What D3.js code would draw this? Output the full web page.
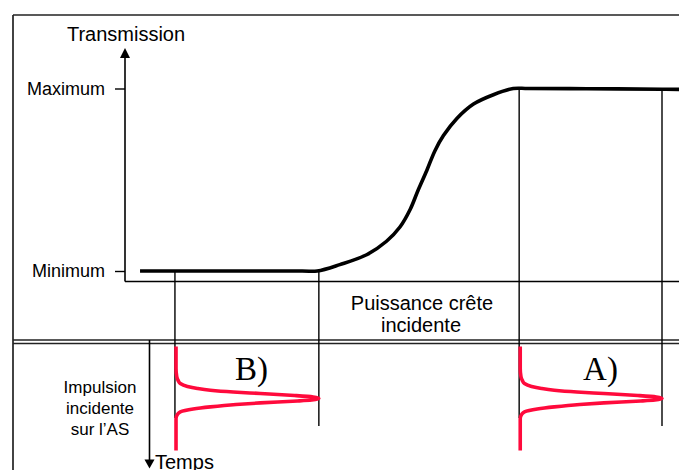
<!DOCTYPE html>
<html>
<head>
<meta charset="utf-8">
<script src="https://cdn.jsdelivr.net/npm/d3@7"></script>
<style>
  html, body { margin: 0; padding: 0; background: #fff; }
  svg { display: block; }
  text { font-family: "Liberation Sans", Arial, Helvetica, sans-serif; fill: #000; }
  .serif { font-family: "Liberation Serif", "Times New Roman", serif; }
</style>
</head>
<body>
<svg id="chart" width="679" height="470"></svg>
<script>
// Saturable-absorber transmission versus incident peak power (arbitrary units)
const powerValues = [2.8, 33.0, 35.8, 40.0, 45.0, 48.7, 51.2, 53.1, 54.6, 56.2, 57.7, 59.3, 61.8, 64.9, 68.6, 72.3, 75.0, 86.0, 100.0, 103.2];
const transmissionValues = [0, 0, 0, 0.035, 0.089, 0.163, 0.241, 0.337, 0.444, 0.551, 0.658, 0.742, 0.836, 0.915, 0.966, 1.0, 1.0, 0.999, 0.996, 0.995];

// Transmission axis ticks
const levelTicks = [0, 1];
const levelLabels = ["Minimum", "Maximum"];

// Incident pulses: baseline power, peak power, label
const pulseNames = ["B)", "A)"];
const pulseBase = [9.5, 73.6];
const pulsePeak = [36.1, 100.0];
const pulseLabelPower = [20.5, 85.3];

// Reference lines dropped from the curve into the pulse panel
const guidePower = [9.3, 36.1, 73.4, 100.0];
const guideLevel = [0, 0, 1, 1];
const guideEndTime = [3.9, 5.5, 3.9, 5.5];

// Normalised pulse profile versus time (time runs downwards)
const pulseTime = [-10.4, -6.0, -4.4, -3.6, -3.0, -2.4, -2.0, -1.66, -1.3, -1.0, -0.6, -0.3, 0, 0.3, 0.5, 0.88, 1.2, 1.68, 2.1, 2.68, 3.2, 4.0, 10.4];
const pulseShape = [0, 0, 0.005, 0.015, 0.03, 0.08, 0.15, 0.24, 0.40, 0.59, 0.83, 0.96, 1, 0.95, 0.85, 0.59, 0.42, 0.24, 0.12, 0.03, 0.01, 0, 0];

const svg = d3.select("#chart");

// Scales
const x = d3.scaleLinear().domain([0, 100]).range([125, 662]);
const y = d3.scaleLinear().domain([0, 1]).range([271, 88.5]);
const t = d3.scaleLinear().domain([-11.7, 14]).range([340, 468.5]);

const axisX0 = 125, axisY0 = 281.5, axisTop = 48;
const frameLeft = 13, frameTop = 15, W = 679, H = 470;
const sepTop = 340, sepBottom = 343.5;

// Frame and panel separator
const frame = svg.append("g").attr("stroke", "#222").attr("stroke-width", 1.7).attr("fill", "none");
frame.append("line").attr("x1", frameLeft).attr("x2", W).attr("y1", frameTop).attr("y2", frameTop);
frame.append("line").attr("x1", frameLeft).attr("x2", frameLeft).attr("y1", frameTop).attr("y2", H);
frame.append("line").attr("x1", frameLeft).attr("x2", W).attr("y1", sepTop).attr("y2", sepTop).attr("stroke-width", 1.5);
frame.append("line").attr("x1", frameLeft).attr("x2", W).attr("y1", sepBottom).attr("y2", sepBottom).attr("stroke-width", 1.5);

// Guide lines
svg.append("g").selectAll("line").data(guidePower).join("line")
  .attr("x1", d => x(d)).attr("x2", d => x(d))
  .attr("y1", (d, i) => y(guideLevel[i]))
  .attr("y2", (d, i) => t(guideEndTime[i]))
  .attr("stroke", "#000").attr("stroke-width", 1.4);

// Transmission axis with arrow
svg.append("line").attr("x1", axisX0).attr("x2", axisX0).attr("y1", axisY0).attr("y2", axisTop + 8)
  .attr("stroke", "#000").attr("stroke-width", 1.6);
svg.append("path")
  .attr("d", `M${axisX0},${axisTop} L${axisX0 - 5},${axisTop + 10} L${axisX0 + 5},${axisTop + 10} Z`)
  .attr("fill", "#000");

// Power axis line
svg.append("line").attr("x1", axisX0).attr("x2", W).attr("y1", axisY0).attr("y2", axisY0)
  .attr("stroke", "#000").attr("stroke-width", 1.6);

// Level ticks
const yAxis = d3.axisLeft(y).tickValues(levelTicks).tickSize(10).tickPadding(10)
  .tickFormat((d, i) => levelLabels[i]);
const gy = svg.append("g").attr("transform", `translate(${axisX0},0)`).call(yAxis);
gy.select(".domain").remove();
gy.attr("font-size", null).attr("font-family", null);
gy.selectAll(".tick line").attr("stroke", "#000").attr("stroke-width", 1.4);
gy.selectAll(".tick text").attr("font-size", "18px").attr("fill", "#000");

// Axis titles
svg.append("text").attr("x", 126).attr("y", 40.5).attr("text-anchor", "middle")
  .attr("font-size", "20px").text("Transmission");
const px = svg.append("text").attr("text-anchor", "middle").attr("font-size", "20px");
px.append("tspan").attr("x", 422).attr("y", 310).text("Puissance crête");
px.append("tspan").attr("x", 421).attr("y", 331.5).text("incidente");

// Transmission curve
const curve = d3.line()
  .x((d, i) => x(powerValues[i]))
  .y((d, i) => y(transmissionValues[i]))
  .curve(d3.curveCatmullRom.alpha(0.5));
svg.append("path").attr("d", curve(powerValues))
  .attr("fill", "none").attr("stroke", "#000").attr("stroke-width", 3.6)
  .attr("stroke-linejoin", "round");

// Time axis with downward arrow
const timeX = 149.5;
svg.append("line").attr("x1", timeX).attr("x2", timeX).attr("y1", sepTop).attr("y2", 461)
  .attr("stroke", "#000").attr("stroke-width", 1.6);
svg.append("path")
  .attr("d", `M${timeX},468.5 L${timeX - 5},459.5 L${timeX + 5},459.5 Z`).attr("fill", "#000");
svg.append("text").attr("x", 155).attr("y", 469).attr("font-size", "20px").text("Temps");

// Pulse panel caption
const cap = svg.append("text").attr("text-anchor", "middle").attr("font-size", "17px");
["Impulsion", "incidente", "sur l\u2019AS"].forEach((s, i) => {
  cap.append("tspan").attr("x", 100).attr("y", 393.3 + i * 20.6).text(s);
});

// Pulses
const pulseLine = (base, peak) => d3.line()
  .x((d, i) => x(base + (peak - base) * pulseShape[i]))
  .y((d, i) => t(pulseTime[i]))
  .curve(d3.curveMonotoneY);

pulseNames.forEach((name, k) => {
  svg.append("path").attr("d", pulseLine(pulseBase[k], pulsePeak[k])(pulseTime))
    .attr("fill", "none").attr("stroke", "#ff0a3c").attr("stroke-width", 3.6)
    .attr("stroke-linejoin", "round");
  svg.append("text").attr("class", "serif").attr("x", x(pulseLabelPower[k]))
    .attr("y", 379.5).attr("font-size", "33px").text(name);
});
</script>
</body>
</html>
